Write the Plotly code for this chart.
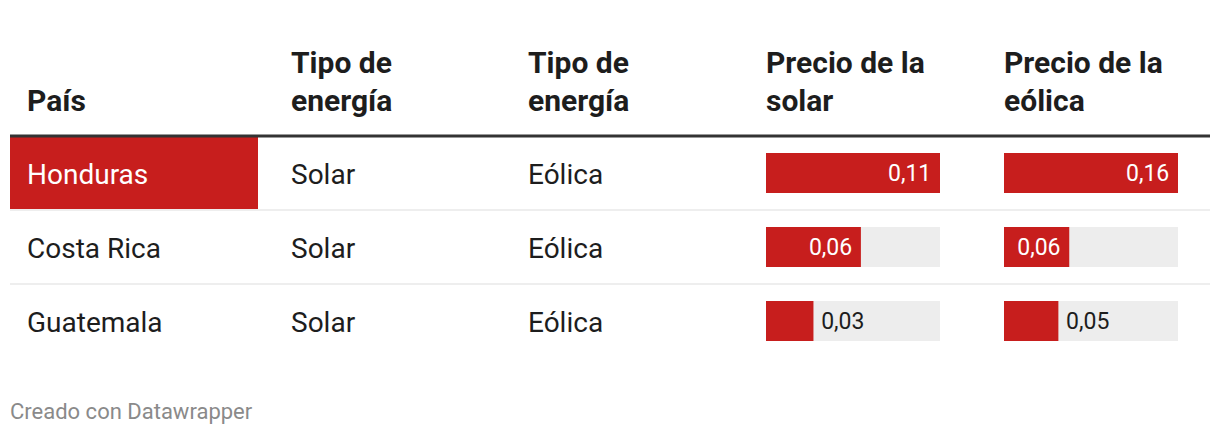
"""Datawrapper-style table: precios de energía solar y eólica."""

import plotly.graph_objects as go

# Data
paises = ["Honduras", "Costa Rica", "Guatemala"]
tipo_1 = ["Solar", "Solar", "Solar"]
tipo_2 = ["Eólica", "Eólica", "Eólica"]
precio_solar = [0.11, 0.06, 0.03]
precio_eolica = [0.16, 0.06, 0.05]
header_line1 = ["", "Tipo de", "Tipo de", "Precio de la", "Precio de la"]
header_line2 = ["País", "energía", "energía", "solar", "eólica"]
label_pos_solar = ["inside", "inside", "outside"]
label_pos_eolica = ["inside", "inside", "outside"]
highlight_row = "Honduras"

# Styling
RED = "#c71e1d"
BG = "#ededed"
DARK = "#1d1d1d"
FONT = "Roboto"
W, H = 1220, 434
ML, MR, MT, MB = 10, 10, 136, 76
col_x = [17, 281, 518, 756, 994]       # text start per column (px inside plot)
first_col_width = 248
text_nudge = 3.5                        # px, body text sits a bit below row centre

rows = list(range(len(paises)))
plot_h = H - MT - MB
row_h = plot_h / len(rows)


def fmt(v, pos):
    s = f"{v:.2f}".replace(".", ",")
    return s + "\u00a0" if pos == "inside" else "\u2009" + s


fig = go.Figure()

# highlighted cell
hi = paises.index(highlight_row)
fig.add_trace(go.Bar(
    x=[first_col_width], y=[rows[hi]], orientation="h", width=1, base=0,
    marker=dict(color=RED, line=dict(width=0)), xaxis="x", yaxis="y",
))

# text columns
text_cols = [paises, tipo_1, tipo_2]
for i, col in enumerate(text_cols):
    colors = ["white" if (i == 0 and p == highlight_row) else DARK for p in paises]
    fig.add_trace(go.Scatter(
        x=[col_x[i]] * len(col), y=rows, mode="text", text=col,
        textposition="middle right",
        textfont=dict(family=FONT, size=28, color=colors),
        xaxis="x", yaxis="y2",
    ))

# bar columns
for vals, pos, ax in [(precio_solar, label_pos_solar, "x2"),
                      (precio_eolica, label_pos_eolica, "x3")]:
    fig.add_trace(go.Bar(
        x=[max(vals)] * len(vals), y=rows, orientation="h", width=0.54,
        marker=dict(color=BG, line=dict(width=0)), xaxis=ax, yaxis="y",
    ))
    fig.add_trace(go.Bar(
        x=vals, y=rows, orientation="h", width=0.54,
        marker=dict(color=RED, line=dict(width=0)), xaxis=ax, yaxis="y",
        text=[fmt(v, p) for v, p in zip(vals, pos)], textposition=pos,
        insidetextanchor="end", constraintext="none", cliponaxis=False,
        insidetextfont=dict(family=FONT, size=23, color="white"),
        outsidetextfont=dict(family=FONT, size=23, color=DARK),
    ))

# headers (two lines, placed separately to control the line spacing)
for i in range(len(col_x)):
    for txt, off in [(header_line1[i], 53.5), (header_line2[i], 16.5)]:
        if not txt:
            continue
        fig.add_annotation(
            x=col_x[i] - 2, xref="x", y=1 + off / plot_h, yref="paper",
            text=f"<b>{txt}</b>", showarrow=False, xanchor="left",
            yanchor="bottom", font=dict(family=FONT, size=30, color=DARK),
        )

# footer
fig.add_annotation(
    x=-2 / (W - ML - MR), xref="paper", y=-38.5 / plot_h, yref="paper",
    text="Creado con Datawrapper", showarrow=False, xanchor="left",
    yanchor="top", font=dict(family=FONT, size=22, color="#8a8a8a"),
)

# rules
fig.add_shape(type="line", xref="paper", x0=0, x1=1, yref="paper", y0=1, y1=1,
              line=dict(color="#333333", width=3))
for r in rows[:-1]:
    fig.add_shape(type="line", xref="paper", x0=0, x1=1, yref="y",
                  y0=r + 0.5, y1=r + 0.5, line=dict(color="#eeeeee", width=2))

d = text_nudge / row_h
fig.update_layout(
    width=W, height=H, margin=dict(l=ML, r=MR, t=MT, b=MB),
    paper_bgcolor="white", plot_bgcolor="white",
    barmode="overlay", showlegend=False, hovermode=False,
    separators=",.",
    xaxis=dict(domain=[0, 1], range=[0, W - ML - MR], visible=False, fixedrange=True),
    xaxis2=dict(domain=[756 / 1200, 930 / 1200], range=[0, max(precio_solar)],
                anchor="y", visible=False, fixedrange=True),
    xaxis3=dict(domain=[994 / 1200, 1168 / 1200], range=[0, max(precio_eolica)],
                anchor="y", visible=False, fixedrange=True),
    yaxis=dict(range=[len(rows) - 0.5, -0.5], visible=False, fixedrange=True),
    yaxis2=dict(range=[len(rows) - 0.5 - d, -0.5 - d], overlaying="y",
                visible=False, fixedrange=True),
)

# the page body has a default 8px margin; drop it so the figure sits at 0,0
fig.write_html("out.html", config={"displayModeBar": False},
               post_script="document.body.style.margin='0px';")
